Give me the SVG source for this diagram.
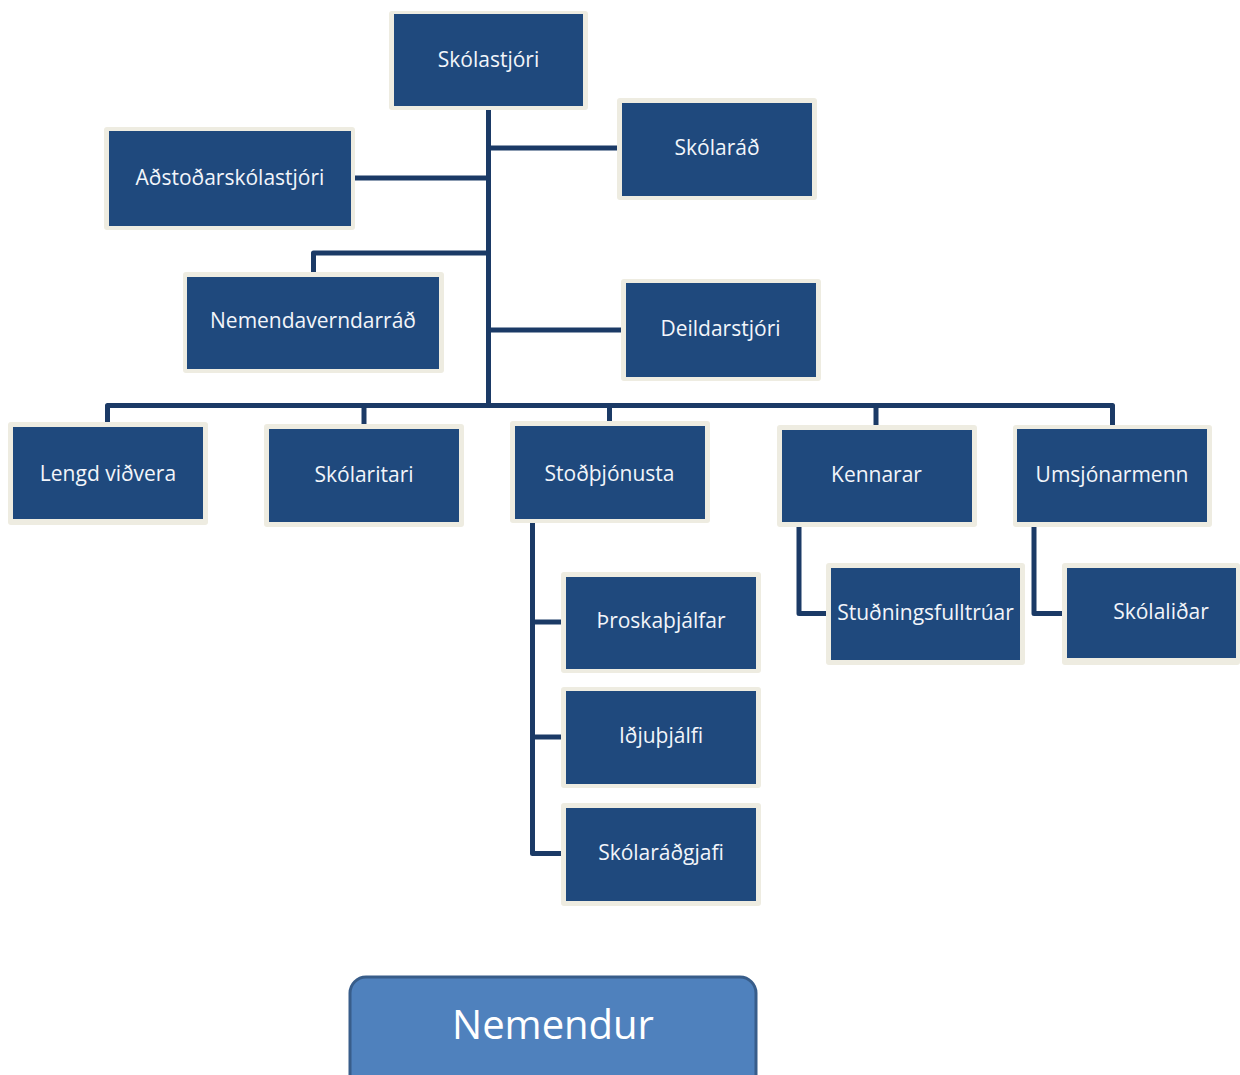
<svg xmlns="http://www.w3.org/2000/svg" width="1240" height="1075" viewBox="0 0 1240 1075">
<style>
.o{fill:#EEECE1}
.b{fill:#1F497D}
.t{font-family:"Open Sans","DejaVu Sans",sans-serif;font-size:21px;fill:#F2F5FA;text-anchor:middle}
.c{fill:none;stroke:#1B3A66;stroke-width:5;stroke-linejoin:round}
.n{fill:#4F81BD;stroke:#385D8A;stroke-width:3}
.nt{font-family:"Open Sans","DejaVu Sans",sans-serif;font-size:40px;fill:#FFFFFF;text-anchor:middle}
</style>
<rect width="1240" height="1075" fill="#FFFFFF"/>
<g id="connectors">
<path class="c" d="M488.5,110 V405"/>
<path class="c" d="M488.5,148 H618"/>
<path class="c" d="M355,178 H488.5"/>
<path class="c" d="M488.5,253 H313.5 V272"/>
<path class="c" d="M488.5,330 H621"/>
<path class="c" d="M107.5,423 V405.5 H1112.5 V425"/>
<path class="c" d="M364,424 V405.5"/>
<path class="c" d="M609.5,422 V405.5"/>
<path class="c" d="M876,425 V405.5"/>
<path class="c" d="M532.5,523 V853.5 H562"/>
<path class="c" d="M532.5,622 H562"/>
<path class="c" d="M532.5,737 H562"/>
<path class="c" d="M799,527 V613.5 H827"/>
<path class="c" d="M1034,527 V613.5 H1063"/>
</g>
<g id="skolastjori"><rect class="o" x="389" y="11" width="199" height="99" rx="3"/><rect class="b" x="394" y="14" width="189" height="92"/><text class="t" x="488.5" y="67">Skólastjóri</text></g>
<g id="skolarad"><rect class="o" x="617" y="98" width="200" height="102" rx="3"/><rect class="b" x="622" y="103" width="190" height="93"/><text class="t" x="717" y="155">Skólaráð</text></g>
<g id="adstodarskolastjori"><rect class="o" x="104" y="127" width="251" height="103" rx="3"/><rect class="b" x="109" y="131" width="242" height="95"/><text class="t" x="230" y="185">Aðstoðarskólastjóri</text></g>
<g id="nemendaverndarrad"><rect class="o" x="183" y="272" width="261" height="101" rx="3"/><rect class="b" x="187" y="277" width="252" height="92"/><text class="t" x="313" y="328">Nemendaverndarráð</text></g>
<g id="deildarstjori"><rect class="o" x="621" y="279" width="200" height="102" rx="3"/><rect class="b" x="626" y="283" width="190" height="94"/><text class="t" x="720.5" y="336">Deildarstjóri</text></g>
<g id="lengd-vidvera"><rect class="o" x="8" y="422" width="200" height="103" rx="3"/><rect class="b" x="13" y="427" width="190" height="92"/><text class="t" x="108" y="481">Lengd viðvera</text></g>
<g id="skolaritari"><rect class="o" x="264" y="424" width="200" height="103" rx="3"/><rect class="b" x="269" y="429" width="190" height="93"/><text class="t" x="364" y="482">Skólaritari</text></g>
<g id="stodthjonusta"><rect class="o" x="510" y="421" width="200" height="102" rx="3"/><rect class="b" x="515" y="426" width="190" height="93"/><text class="t" x="609.5" y="481">Stoðþjónusta</text></g>
<g id="kennarar"><rect class="o" x="777" y="425" width="200" height="102" rx="3"/><rect class="b" x="782" y="430" width="190" height="92"/><text class="t" x="876.5" y="482">Kennarar</text></g>
<g id="umsjonarmenn"><rect class="o" x="1013" y="425" width="199" height="102" rx="3"/><rect class="b" x="1017" y="429" width="190" height="93"/><text class="t" x="1112" y="482">Umsjónarmenn</text></g>
<g id="studningsfulltruar"><rect class="o" x="826" y="563" width="199" height="102" rx="3"/><rect class="b" x="831" y="568" width="189" height="92"/><text class="t" x="925.5" y="620">Stuðningsfulltrúar</text></g>
<g id="skolalidar"><rect class="o" x="1062" y="563" width="178" height="102" rx="3"/><rect class="b" x="1067" y="568" width="169" height="90"/><text class="t" x="1161" y="619">Skólaliðar</text></g>
<g id="throskathjalfar"><rect class="o" x="561" y="572" width="200" height="101" rx="3"/><rect class="b" x="566" y="577" width="190" height="92"/><text class="t" x="661" y="628">Þroskaþjálfar</text></g>
<g id="idjuthjalfi"><rect class="o" x="561" y="687" width="200" height="101" rx="3"/><rect class="b" x="566" y="691" width="190" height="93"/><text class="t" x="661" y="743">Iðjuþjálfi</text></g>
<g id="skolaradgjafi"><rect class="o" x="561" y="803" width="200" height="103" rx="3"/><rect class="b" x="566" y="808" width="190" height="93"/><text class="t" x="661" y="860">Skólaráðgjafi</text></g>
<g id="nemendur"><rect class="n" x="350" y="977" width="406" height="120" rx="16"/><text class="nt" x="553" y="1039">Nemendur</text></g>
</svg>
